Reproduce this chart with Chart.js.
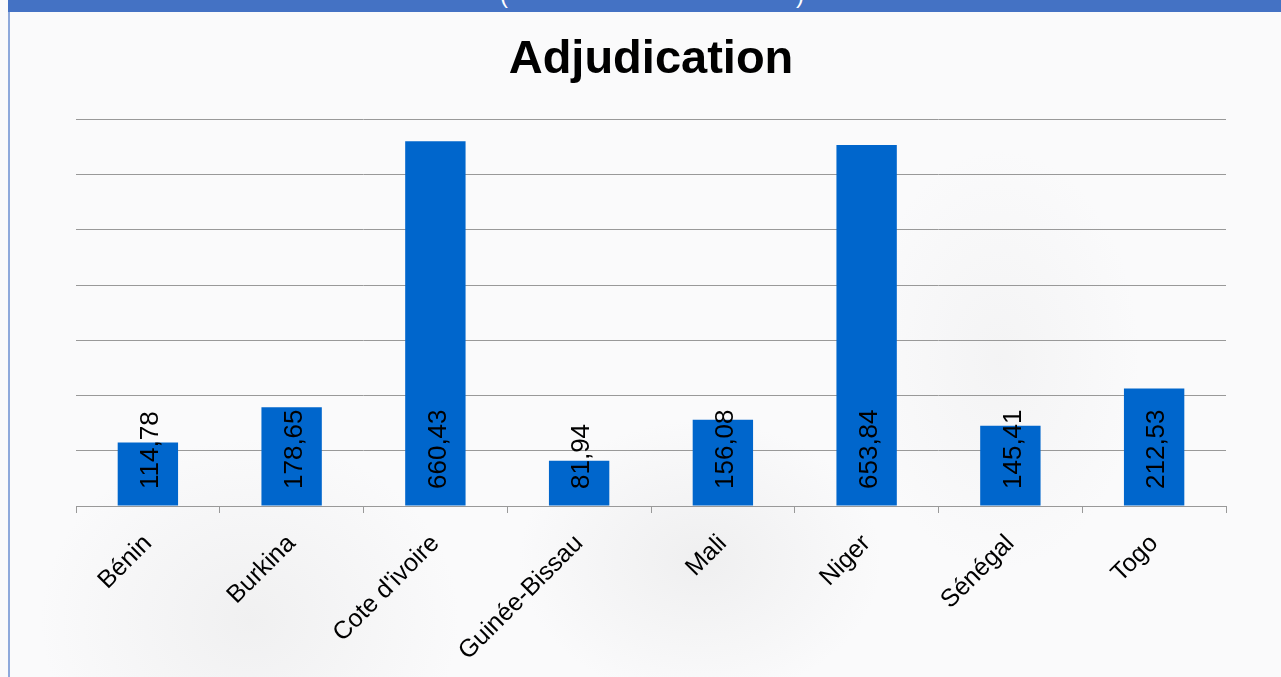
<!DOCTYPE html>
<html>
<head>
<meta charset="utf-8">
<script src="https://cdn.jsdelivr.net/npm/chart.js@4/dist/chart.umd.min.js"></script>
<style>
  html, body { margin: 0; padding: 0; }
  body {
    width: 1281px; height: 677px; overflow: hidden; position: relative;
    background:
      radial-gradient(ellipse 260px 200px at 700px 560px, rgba(200,200,200,0.22), rgba(200,200,200,0) 70%),
      radial-gradient(ellipse 300px 260px at 250px 620px, rgba(205,205,205,0.22), rgba(205,205,205,0) 70%),
      radial-gradient(ellipse 200px 300px at 1000px 360px, rgba(215,215,215,0.18), rgba(215,215,215,0) 70%),
      #fafafb;
    font-family: "Liberation Sans", Arial, sans-serif;
  }
  #band { position: absolute; left: 8px; top: 0; width: 1273px; height: 12px; background: #4472C4; overflow: hidden; }
  #band span { position: absolute; color: #fff; font-size: 24px; line-height: 24px; top: -17px; }
  #leftline { position: absolute; left: 8px; top: 12px; width: 2px; height: 665px; background: #8ea9db; }
  #wrap { position: absolute; left: 0; top: 0; width: 1281px; height: 677px; }
</style>
</head>
<body>
<div id="band"><span style="left:492px">(</span><span style="left:788px">)</span></div>
<div id="leftline"></div>
<div id="wrap"><canvas id="c" width="1281" height="677"></canvas></div>
<script>
const categories = ["Bénin", "Burkina", "Cote d'ivoire", "Guinée-Bissau", "Mali", "Niger", "Sénégal", "Togo"];
const values = [114.78, 178.65, 660.43, 81.94, 156.08, 653.84, 145.41, 212.53];
const yTicks = [0, 100, 200, 300, 400, 500, 600, 700];
const chartTitle = "Adjudication";

const FONT = "'Liberation Sans', Arial, sans-serif";

const valueLabels = {
  id: 'valueLabels',
  afterDatasetsDraw(chart) {
    const ctx = chart.ctx;
    const meta = chart.getDatasetMeta(0);
    const yScale = chart.scales.y;
    const base = yScale.getPixelForValue(0);
    ctx.save();
    ctx.fillStyle = '#000';
    ctx.font = '26px ' + FONT;
    ctx.textAlign = 'left';
    ctx.textBaseline = 'middle';
    meta.data.forEach((bar, i) => {
      const txt = chart.data.datasets[0].data[i].toFixed(2).replace('.', ',');
      ctx.save();
      ctx.translate(bar.x + 3, base - 17);
      ctx.rotate(-Math.PI / 2);
      ctx.fillText(txt, 0, 0);
      ctx.restore();
    });
    ctx.restore();
  }
};

new Chart(document.getElementById('c'), {
  type: 'bar',
  data: {
    labels: categories,
    datasets: [{
      data: values,
      backgroundColor: '#0066CC',
      borderWidth: 0,
      barPercentage: 0.42,
      categoryPercentage: 1.0
    }]
  },
  options: {
    responsive: false,
    animation: false,
    layout: { padding: { left: 76, right: 55, top: 0, bottom: 0 } },
    plugins: {
      legend: { display: false },
      tooltip: { enabled: false },
      title: {
        display: true,
        text: chartTitle,
        color: '#000',
        font: { family: FONT, size: 47, weight: 'bold', lineHeight: 1.2 },
        padding: { top: 32, bottom: 31 }
      }
    },
    scales: {
      x: {
        grid: { display: true, drawOnChartArea: false, drawTicks: true, tickLength: 7, color: '#999', offset: true },
        border: { display: true, color: '#999', width: 1 },
        ticks: {
          color: '#000',
          font: { family: FONT, size: 25 },
          maxRotation: 45, minRotation: 45,
          autoSkip: false,
          padding: 16
        },
        afterFit(scale) { scale.height = 171; }
      },
      y: {
        min: yTicks[0],
        max: yTicks[yTicks.length - 1],
        afterBuildTicks(scale) { scale.ticks = yTicks.map(v => ({ value: v })); },
        grid: { color: '#999', lineWidth: 1, drawTicks: false },
        border: { display: false },
        ticks: { display: false },
        afterFit(scale) { scale.width = 0; }
      }
    }
  },
  plugins: [valueLabels]
});
</script>
</body>
</html>
